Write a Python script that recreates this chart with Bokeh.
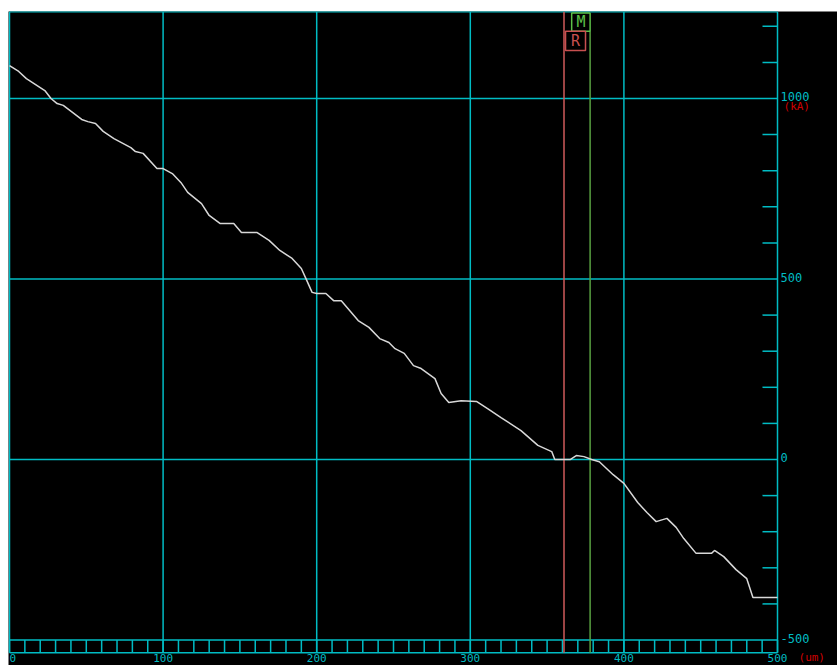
from bokeh.plotting import figure
from bokeh.embed import file_html
from bokeh.resources import INLINE
from bokeh.core.properties import value

# profile data (um, kA)
pos_um = [0, 6, 11, 23, 27, 31, 35, 47, 51, 56, 61, 68, 79, 82, 87, 96, 100, 106, 112, 116, 125,
          130, 137, 146, 151, 161, 169, 176, 184, 190, 193, 197, 200, 206, 211, 216, 227, 234, 241,
          247, 251, 257, 263, 268, 277, 281, 286, 294, 304, 312, 320, 333, 344, 353, 355, 365, 369,
          374, 379, 384, 393, 400, 409, 415, 421, 428, 434, 439, 447, 457, 459, 465, 473, 480, 484,
          499, 500]
height_ka = [1091, 1075, 1055, 1022, 1000, 986, 981, 942, 936, 931, 909, 889, 864, 853, 848, 806, 806,
             792, 765, 740, 709, 676, 654, 654, 629, 629, 607, 579, 557, 529, 501, 463, 460, 460, 440,
             440, 385, 366, 335, 324, 307, 294, 260, 252, 224, 183, 158, 163, 161, 139, 116, 80, 39, 22,
             0, 0, 11, 8, 0, -6, -42, -66, -119, -147, -172, -163, -188, -219, -260, -260, -252, -269,
             -305, -330, -382, -382, -382]

x_ticks = [0, 100, 200, 300, 400, 500]
x_labels = ["0", "100", "200", "300", "400", "500"]
y_ticks = [-500, 0, 500, 1000]
y_labels = ["-500", "0", "500", "1000"]
y_minor = [-400, -300, -200, -100, 100, 200, 300, 400, 600, 700, 800, 900, 1100, 1200]
x_minor = list(range(0, 501, 10))
x_unit = "(um)"
y_unit = "(kA)"
cursor_r = 361
cursor_m = 378

# plotting extents
X0, X1 = 0, 500
Y_TOP = 1240
Y_RULER = -535

CYAN = "#00bcc4"
RED_TXT = "#d00000"
FONT = "DejaVu Sans Mono"

p = figure(width=829, height=654, output_backend="svg", toolbar_location=None,
           x_range=(-0.65, 539.06), y_range=(-570.6, 1241.0),
           x_axis_location=None, y_axis_location=None,
           min_border_left=0, min_border_right=0, min_border_top=0, min_border_bottom=0,
           background_fill_color="black", border_fill_color="black",
           outline_line_color=None)
p.margin = (11, 0, 0, 8)
p.xgrid.visible = False
p.ygrid.visible = False

LW = 1.5
# vertical grid lines / frame sides
p.segment(x0=x_ticks, x1=x_ticks, y0=[Y_RULER] * len(x_ticks), y1=[Y_TOP] * len(x_ticks),
          line_color=CYAN, line_width=LW)
# horizontal grid lines (incl. ruler top)
p.segment(x0=[X0] * len(y_ticks), x1=[X1] * len(y_ticks), y0=y_ticks, y1=y_ticks,
          line_color=CYAN, line_width=LW)
# top border and ruler bottom
p.segment(x0=[X0, X0], x1=[X1, X1], y0=[Y_TOP, Y_RULER], y1=[Y_TOP, Y_RULER],
          line_color=CYAN, line_width=LW)
# ruler ticks every 10 um
p.segment(x0=x_minor, x1=x_minor, y0=[-500] * len(x_minor), y1=[Y_RULER] * len(x_minor),
          line_color=CYAN, line_width=LW)
# right-side minor ticks every 100 kA (15 px inward)
tick_len = 15 / 1.536
p.segment(x0=[X1 - tick_len] * len(y_minor), x1=[X1] * len(y_minor), y0=y_minor, y1=y_minor,
          line_color=CYAN, line_width=LW)

# tick labels
p.text(x=[X1] * len(y_ticks), y=y_ticks, text=y_labels, x_offset=3, y_offset=-2,
       text_color=CYAN, text_font=value(FONT), text_font_size="12px",
       text_align="left", text_baseline="middle")
x_align = ["left" if t == X0 else "center" for t in x_ticks]
p.text(x=x_ticks, y=[Y_RULER] * len(x_ticks), text=x_labels, x_offset=0, y_offset=5,
       text_color=CYAN, text_font=value(FONT), text_font_size="11px",
       text_align=x_align, text_baseline="middle")
# unit labels
p.text(x=[X1], y=[1000], text=[y_unit], x_offset=6, y_offset=8,
       text_color=RED_TXT, text_font=value(FONT), text_font_size="11px",
       text_align="left", text_baseline="middle")
p.text(x=[X1], y=[Y_RULER], text=[x_unit], x_offset=21, y_offset=5,
       text_color=RED_TXT, text_font=value(FONT), text_font_size="11px",
       text_align="left", text_baseline="middle")

# cursors
p.segment(x0=[cursor_r], x1=[cursor_r], y0=[Y_RULER], y1=[Y_TOP],
          line_color="#d05a5a", line_width=LW)
p.segment(x0=[cursor_m], x1=[cursor_m], y0=[Y_RULER], y1=[1186],
          line_color="#58a040", line_width=LW)

# marker boxes
p.quad(left=[cursor_m - 12], right=[cursor_m], top=[1237], bottom=[1186],
       fill_color=None, line_color="#5cc048", line_width=LW)
p.text(x=[cursor_m - 6], y=[1211], text=["M"], text_color="#5cc048", text_font=value(FONT),
       text_font_size="15px", text_align="center", text_baseline="middle")
p.quad(left=[cursor_r + 1], right=[cursor_r + 14], top=[1186], bottom=[1133],
       fill_color=None, line_color="#c85050", line_width=LW)
p.text(x=[cursor_r + 7.5], y=[1160], text=["R"], text_color="#c85050", text_font=value(FONT),
       text_font_size="15px", text_align="center", text_baseline="middle")

# profile
p.line(pos_um, height_ka, line_color="#d8d8d8", line_width=1.5)

open("out.html", "w").write(file_html(p, INLINE))
